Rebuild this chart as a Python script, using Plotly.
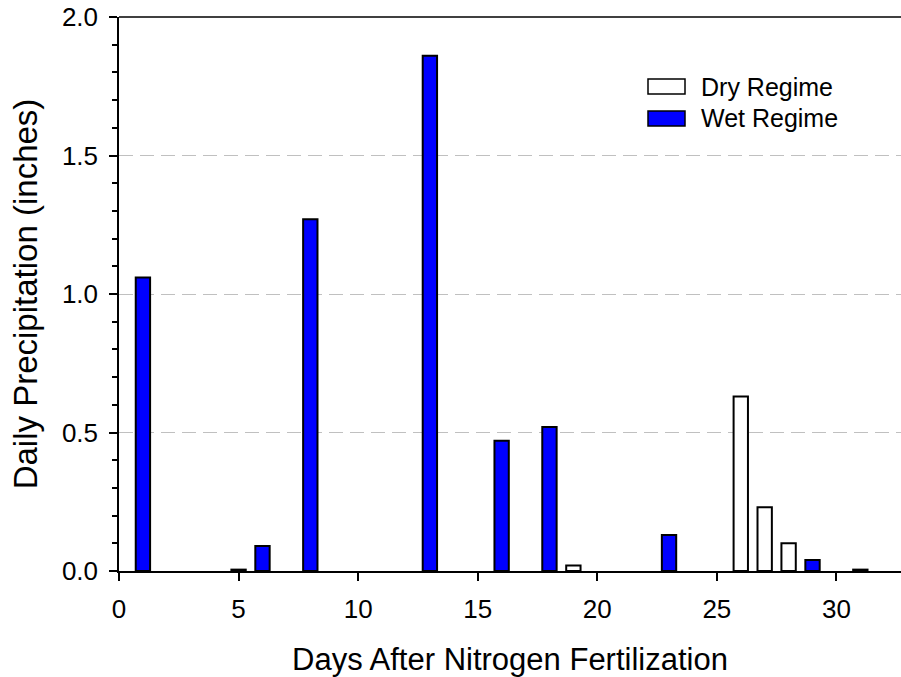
import plotly.graph_objects as go

dry_days = [5, 19, 26, 27, 28, 31]
dry_vals = [0.005, 0.02, 0.63, 0.23, 0.10, 0.005]
wet_days = [1, 6, 8, 13, 16, 18, 23, 29]
wet_vals = [1.06, 0.09, 1.27, 1.86, 0.47, 0.52, 0.13, 0.04]

x_ticks = [0, 5, 10, 15, 20, 25, 30]
y_ticks = [0.0, 0.5, 1.0, 1.5, 2.0]
series_names = ["Dry Regime", "Wet Regime"]
series_colors = ["white", "#0000FF"]

fig = go.Figure()
fig.add_trace(go.Bar(x=dry_days, y=dry_vals, name=series_names[0], width=0.6,
                     marker=dict(color=series_colors[0], line=dict(color="black", width=2))))
fig.add_trace(go.Bar(x=wet_days, y=wet_vals, name=series_names[1], width=0.6,
                     marker=dict(color=series_colors[1], line=dict(color="black", width=2))))

font = "Liberation Sans, Arial, sans-serif"
W, H = 901, 677
L, R, T, B = 119, 0, 17, 106
fig.update_layout(
    width=W, height=H,
    margin=dict(l=L, r=R, t=T, b=B),
    paper_bgcolor="white", plot_bgcolor="white",
    barmode="overlay", showlegend=False,
    font=dict(family=font, color="black", size=26),
    xaxis=dict(range=[0, 32.7], tickvals=x_ticks, ticks="outside", ticklen=8,
               tickwidth=1.5, tickcolor="black", showline=True, linecolor="black",
               linewidth=1.5, showgrid=False, zeroline=False,
               title=dict(text="Days After Nitrogen Fertilization", standoff=27,
                          font=dict(size=31)),
               ticklabelstandoff=6),
    yaxis=dict(range=[0, 2.0], tickvals=y_ticks, tickformat=".1f", ticks="outside",
               ticklen=8, tickwidth=1.5, tickcolor="black", showline=True,
               linecolor="black", linewidth=1.5, mirror=False,
               showgrid=True, gridcolor="#C0C0C0", griddash="14px,7px", gridwidth=1,
               zeroline=False,
               minor=dict(dtick=0.1, ticks="outside", ticklen=5, tickcolor="black",
                          tickwidth=1.5, showgrid=False),
               title=dict(text="Daily Precipitation (inches)", standoff=14,
                          font=dict(size=33)),
               ticklabelstandoff=6),
)
# top frame line
fig.add_shape(type="line", xref="paper", yref="paper", x0=0, x1=1, y0=1, y1=1,
              line=dict(color="black", width=1.5))

# custom legend (pixel positions converted to paper coords)
pw, ph = W - L - R, H - T - B
def px(x):
    return (x - L) / pw
def py(y):
    return 1 - (y - T) / ph

legend_rows = [(79, 94), (111, 126)]
for name, color, (y0, y1) in zip(series_names, series_colors, legend_rows):
    fig.add_shape(type="rect", xref="paper", yref="paper",
                  x0=px(648), x1=px(685), y0=py(y1), y1=py(y0),
                  fillcolor=color, line=dict(color="black", width=1.5))
    fig.add_annotation(xref="paper", yref="paper", x=px(699), y=py((y0 + y1) / 2),
                       text=name, showarrow=False, xanchor="left", yanchor="middle",
                       font=dict(size=25))

fig.write_html("out.html")
